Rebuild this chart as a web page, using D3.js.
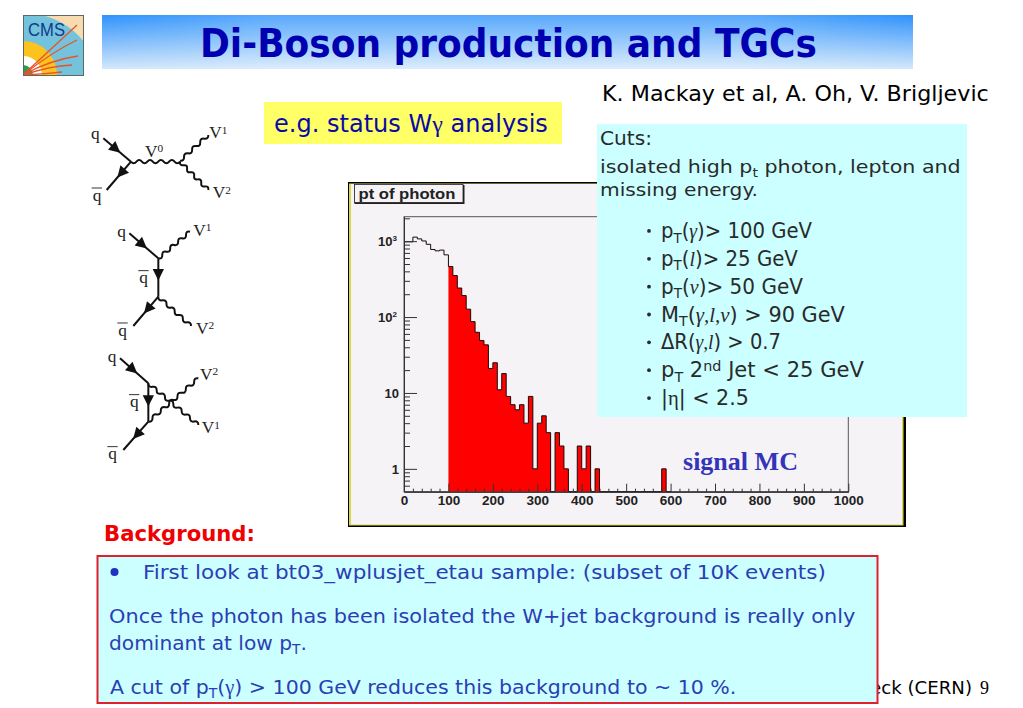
<!DOCTYPE html>
<html><head><meta charset="utf-8">
<script src="https://cdnjs.cloudflare.com/ajax/libs/d3/7.8.5/d3.min.js"></script>
<style>html,body{margin:0;padding:0;background:#fff;overflow:hidden}svg{display:block}</style>
</head><body><svg id="s" width="1023" height="708"></svg>
<script>
// ---- histogram data (pt of photon, 10 GeV bins starting at 0) ----
const binWidth = 10;
const photonCounts = [980,980,1130,1071,1006,909,777,745,762,660,
  463,352,241,192,127,87,63,49,43,21,
  25,11,18,9,7,6,7,4,9,1,
  4,5,3,0,3,2,1,0,0,2,
  1,2,0,1,0,0,0,0,0,0,
  0,0,0,0,0,0,0,0,1,0];
const signalCut = 100;
const xTicksMajor = [0,100,200,300,400,500,600,700,800,900,1000];
const xTicksMinor = [20,40,60,80,120,140,160,180,220,240,260,280,320,340,360,380,420,440,460,480,520,540,560,580,620,640,660,680,720,740,760,780,820,840,860,880,920,940,960,980];
const yTicksMajor = [1,10,100,1000];
const yTicksMinor = [0.6,0.7,0.8,0.9,2,3,4,5,6,7,8,9,20,30,40,50,60,70,80,90,200,300,400,500,600,700,800,900,2000];
const cutsLines = ["pT(γ)> 100 GeV","pT(l)> 25 GeV","pT(ν)> 50 GeV","MT(γ,l,ν) > 90 GeV","ΔR(γ,l) > 0.7","pT 2nd Jet < 25 GeV","|η| < 2.5"];

const svg = d3.select("#s");
const SANS = "'DejaVu Sans'", SERIF = "'Liberation Serif'", ARIAL = "'Liberation Sans'";
const defs = svg.append("defs");
const grad = defs.append("linearGradient").attr("id","hdr").attr("x1",0).attr("x2",0).attr("y1",0).attr("y2",1);
grad.append("stop").attr("offset",0).attr("stop-color","#2f93fb");
grad.append("stop").attr("offset",1).attr("stop-color","#d3e8fb");
const grad2 = defs.append("linearGradient").attr("id","hdr2");
grad2.append("stop").attr("offset",0).attr("stop-color","#fff").attr("stop-opacity",0);
grad2.append("stop").attr("offset",0.2).attr("stop-color","#fff").attr("stop-opacity",0.2);
grad2.append("stop").attr("offset",0.8).attr("stop-color","#fff").attr("stop-opacity",0.2);
grad2.append("stop").attr("offset",1).attr("stop-color","#fff").attr("stop-opacity",0);

function T(g,x,y,parts,o){
  const t = g.append("text").attr("font-family",o.font||SANS).attr("font-size",o.size)
    .attr("fill",o.fill||"#000").attr("font-weight",o.weight||null);
  let shift = 0;
  (Array.isArray(parts)?parts:[parts]).forEach(p=>{
    const s = typeof p==="string"?p:p[0], q = typeof p==="string"?{}:p[1];
    const ts = t.append("tspan").text(s);
    if(q.font) ts.attr("font-family",q.font);
    if(q.italic) ts.attr("font-style","italic");
    let d = -shift; shift = 0;
    if(q.sub){ shift = o.size*0.22; d += shift; ts.attr("font-size",o.size*0.68); }
    if(q.sup){ shift = -o.size*0.32; d += shift; ts.attr("font-size",o.size*0.68); }
    if(d) ts.attr("dy",d);
  });
  const k = o.width ? o.width/t.node().getComputedTextLength() : 1;
  t.attr("transform",`translate(${x},${y}) scale(${k},1)`);
  return t;
}

// ---- header ----
const lg = svg.append("g");
lg.append("clipPath").attr("id","lc").append("rect").attr("x",23).attr("y",15).attr("width",60).attr("height",60);
const lgc = lg.append("g").attr("clip-path","url(#lc)");
lgc.append("rect").attr("x",23).attr("y",15).attr("width",60).attr("height",60).attr("fill","#f7dcb0");
lgc.append("ellipse").attr("cx",23).attr("cy",75).attr("rx",72).attr("ry",62).attr("fill","#74c3dc");
[[34,"#fcc31e"],[19,"#ffffff"],[10,"#2e9b52"]].forEach(([r,c])=>
  lgc.append("circle").attr("cx",23).attr("cy",75).attr("r",r).attr("fill",c));
["M23 75Q50 50 77 25","M23 75Q52 52 77 40","M23 75Q50 60 78 56","M23 75Q50 66 72 65","M23 75Q45 74 62 72"].forEach(d=>
  lgc.append("path").attr("d",d).attr("fill","none").attr("stroke","#e8532a").attr("stroke-width",1.3));
lg.append("rect").attr("x",23.5).attr("y",15.5).attr("width",60).attr("height",60).attr("fill","none").attr("stroke","#5a6a60");
T(lg,28,36,"CMS",{size:18,font:ARIAL,fill:"#123a8a",width:37});

svg.append("rect").attr("x",102).attr("y",15).attr("width",811).attr("height",54).attr("fill","url(#hdr)");
svg.append("rect").attr("x",102).attr("y",15).attr("width",811).attr("height",54).attr("fill","url(#hdr2)");
T(svg,200,57,"Di-Boson production and TGCs",{size:39,weight:"bold",fill:"#0000b0",width:617});

svg.append("rect").attr("x",264).attr("y",102).attr("width",298).attr("height",42).attr("fill","#ffff66");
T(svg,274,132,["e.g. status W",["γ",{font:SERIF}]," analysis"],{size:24,fill:"#0a0aa8",width:274});
T(svg,602,101,"K. Mackay et al, A. Oh, V. Brigljevic",{size:22,width:387});

// ---- Feynman diagrams (decoration) ----
const fy = svg.append("g").attr("transform","translate(80,110) scale(0.3333)");
function wavy(x1,y1,x2,y2){
  const L=Math.hypot(x2-x1,y2-y1), n=Math.round(L/16), ux=(x2-x1)/L, uy=(y2-y1)/L;
  let d=`M${x1} ${y1}`;
  for(let i=1;i<=n;i++){
    const s=L*i/n, m=L*(i-.5)/n, a=(i%2?10:-10);
    d+=`Q${x1+ux*m-uy*a} ${y1+uy*m+ux*a} ${x1+ux*s} ${y1+uy*s}`;
  }
  fy.append("path").attr("d",d).attr("fill","none").attr("stroke","#111").attr("stroke-width",6);
}
function quark(x1,y1,x2,y2,f){
  fy.append("line").attr("x1",x1).attr("y1",y1).attr("x2",x2).attr("y2",y2).attr("stroke","#111").attr("stroke-width",6);
  const a=Math.atan2(y2-y1,x2-x1)*180/Math.PI, px=x1+(x2-x1)*f, py=y1+(y2-y1)*f;
  fy.append("path").attr("d","M18 0L-16 -17L-16 17Z").attr("fill","#111").attr("transform",`translate(${px},${py}) rotate(${a})`);
}
function lab(x,y,s,sup,bar){
  const t=fy.append("text").attr("x",x).attr("y",y).attr("font-family",SERIF).attr("font-size",52).attr("fill","#222").text(s);
  if(sup) t.append("tspan").attr("font-size",34).attr("dy",-14).text(sup);
  if(bar) fy.append("line").attr("x1",x-3).attr("x2",x+28).attr("y1",y-38).attr("y2",y-38).attr("stroke","#333").attr("stroke-width",3);
}
quark(70,85,153,155,.45); quark(153,155,80,240,.4); wavy(153,155,300,155); wavy(300,152,385,75); wavy(300,155,385,240);
lab(33,87,"q"); lab(38,272,"q","",1); lab(195,140,"V","0"); lab(388,85,"V","1"); lab(398,265,"V","2");
quark(148,370,235,445,.45); wavy(235,445,330,365); quark(235,445,235,560,.42); quark(235,560,160,648,.42); wavy(235,560,333,648);
lab(112,380,"q"); lab(178,520,"q","",1); lab(115,677,"q","",1); lab(340,378,"V","1"); lab(348,672,"V","2");
quark(120,745,205,820,.45); wavy(205,820,355,945); quark(205,820,205,935,.45); wavy(205,935,355,805); quark(205,935,130,1020,.45);
lab(83,755,"q"); lab(150,892,"q","",1); lab(85,1048,"q","",1); lab(360,810,"V","2"); lab(365,970,"V","1");

// ---- histogram ----
const frame = svg.append("g");
frame.append("rect").attr("x",348).attr("y",182).attr("width",558).attr("height",345).attr("fill","#000");
frame.append("rect").attr("x",349).attr("y",183.5).attr("width",554.5).attr("height",342).attr("fill","#d8d84a");
frame.append("rect").attr("x",351).attr("y",184).attr("width",551).attr("height",340.5).attr("fill","#f5f3f6");
frame.append("rect").attr("x",354.5).attr("y",185).attr("width",110).attr("height",19).attr("fill","#222");
frame.append("rect").attr("x",354.5).attr("y",184.5).attr("width",108.5).attr("height",18).attr("fill","#f5f3f6").attr("stroke","#222").attr("stroke-width",.8);
T(frame,358.5,199,"pt of photon",{size:14,weight:"bold",font:ARIAL,fill:"#222",width:97});

const x = d3.scaleLinear().domain([0,1000]).range([404,848.3]);
const y = d3.scaleLog().domain([0.5,2100]).range([491.7,216.7]);
const py = v => v>0 ? y(v) : y(0.5);
const bins = photonCounts.map((v,i)=>({x:i*binWidth,v})).concat([{x:photonCounts.length*binWidth,v:0}]);
const plot = svg.append("g");
plot.append("rect").attr("x",x(0)).attr("y",y(2100)).attr("width",x(1000)-x(0)).attr("height",y(0.5)-y(2100))
  .attr("fill","none").attr("stroke","#555").attr("stroke-width",1);
const area = d3.area().curve(d3.curveStepAfter).x(d=>x(d.x)).y0(y(0.5)).y1(d=>py(d.v));
plot.append("path").datum(bins.filter(d=>d.x>=signalCut)).attr("d",area).attr("fill","#ff0000");
const line = d3.line().curve(d3.curveStepAfter).x(d=>x(d.x)).y(d=>py(d.v));
plot.append("path").datum(bins).attr("d",line).attr("fill","none").attr("stroke","#1a0a0a").attr("stroke-width",1);

const ax = plot.append("g").attr("font-family",ARIAL);
const xMaj = ax.append("g").attr("transform",`translate(0,${y(0.5)})`)
  .call(d3.axisBottom(x).tickValues(xTicksMajor).tickSizeInner(-8).tickSizeOuter(0).tickPadding(4).tickFormat(d3.format("d")));
const xMin = ax.append("g").attr("transform",`translate(0,${y(0.5)})`)
  .call(d3.axisBottom(x).tickValues(xTicksMinor).tickSizeInner(-3).tickSizeOuter(0).tickFormat(""));
const yMaj = ax.append("g").attr("transform",`translate(${x(0)},0)`)
  .call(d3.axisLeft(y).tickValues(yTicksMajor).tickSizeInner(-13).tickSizeOuter(0).tickPadding(5).tickFormat(d=>d===1?"1":"10"));
const yMin = ax.append("g").attr("transform",`translate(${x(0)},0)`)
  .call(d3.axisLeft(y).tickValues(yTicksMinor).tickSizeInner(-6).tickSizeOuter(0).tickFormat(""));
[xMaj,xMin,yMaj,yMin].forEach(a=>{
  a.selectAll("line").attr("stroke","#333").attr("stroke-width",1);
  a.select(".domain").attr("stroke","#333");
});
xMaj.selectAll("text").attr("font-size",13.5).attr("font-weight","bold").attr("fill","#222");
yMaj.selectAll("text").attr("font-size",13).attr("font-weight","bold").attr("fill","#222");
yMaj.selectAll("text").filter(d=>d>=100).attr("dx",-2).append("tspan").attr("font-size",8).attr("dy",-5)
  .text(d=>d===100?"2":"3");
T(svg,683,470,"signal MC",{size:26,weight:"bold",font:SERIF,fill:"#3434bb",width:115});

// ---- cuts box ----
const cuts = svg.append("g");
cuts.append("rect").attr("x",597).attr("y",124).attr("width",370).attr("height",293).attr("fill","#ccffff");
const ink="#2a2a2a", cs=20, mi={font:SERIF,italic:true};
T(cuts,600,145,"Cuts:",{size:cs,fill:ink,width:52});
T(cuts,600,173,["isolated high p",["t",{sub:1}]," photon, lepton and"],{size:18.5,fill:ink,width:361});
T(cuts,600,195.5,"missing energy.",{size:18.5,fill:ink,width:158});
const cutParts = [
  ["p",["T",{sub:1}],"(",["γ",mi],")> 100 GeV"],
  ["p",["T",{sub:1}],"(",["l",mi],")> 25 GeV"],
  ["p",["T",{sub:1}],"(",["ν",mi],")> 50 GeV"],
  ["M",["T",{sub:1}],"(",["γ,l,ν",mi],") > 90 GeV"],
  ["ΔR(",["γ,l",mi],") > 0.7"],
  ["p",["T",{sub:1}]," 2",["nd",{sup:1}]," Jet < 25 GeV"],
  ["|",["η",{font:SERIF}],"| < 2.5"]];
const cutEnds=[812,798,803,845,781,864,749];
const cy=d3.scaleBand().domain(cutsLines).range([238-14,405+14]);
cutParts.forEach((p,i)=>{
  const base=cy(cutsLines[i])+cy.bandwidth()/2;
  cuts.append("circle").attr("cx",649).attr("cy",base-7).attr("r",1.9).attr("fill",ink);
  T(cuts,661,base,p,{size:cs+1,fill:ink,width:cutEnds[i]-661});
});

// ---- footer + background box ----
T(svg,870,694,"eck (CERN)",{size:18,width:102});
T(svg,980,694,"9",{size:18,font:SERIF});
T(svg,104,541,"Background:",{size:21,weight:"bold",fill:"#f00000",width:151});
svg.append("rect").attr("x",97.5).attr("y",556).attr("width",780).attr("height",147).attr("fill","#ccffff").attr("stroke","#e0202c").attr("stroke-width",2);
const blue="#2b3eb5";
svg.append("circle").attr("cx",114.5).attr("cy",572).attr("r",4).attr("fill","#2030c0");
T(svg,143,579,"First look at bt03_wplusjet_etau sample: (subset of 10K events)",{size:20,fill:blue,width:683});
T(svg,109,623,"Once the photon has been isolated the W+jet background is really only",{size:20,fill:blue,width:747});
T(svg,109,650,["dominant at low p",["T",{sub:1}],"."],{size:20,fill:blue,width:198});
T(svg,110,694,["A cut of p",["T",{sub:1}],"(",["γ",{font:SERIF}],") > 100 GeV reduces this background to ~ 10 %."],{size:20,fill:blue,width:627});
</script></body></html>
